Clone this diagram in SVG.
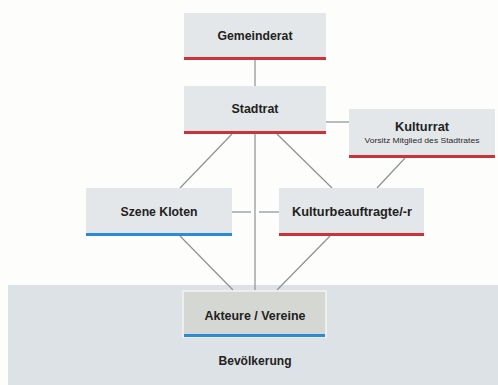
<svg xmlns="http://www.w3.org/2000/svg" width="498" height="385" viewBox="0 0 498 385">
<style>
.box{fill:#e4e7e9}
.red{fill:#c8343a}
.blue{fill:#2b8bd6}
.t{font-family:"Liberation Sans Narrow","Liberation Sans",sans-serif;font-weight:bold;font-size:13.5px;fill:#222;text-anchor:middle}
.s{font-family:"Liberation Sans Narrow","Liberation Sans",sans-serif;font-size:8px;fill:#2a2a2a;text-anchor:middle}
.c{stroke:#8c9194;stroke-width:1.2;fill:none}
</style>
<rect width="498" height="385" fill="#fdfdfb"/>
<rect x="8" y="285" width="490" height="100" fill="#dde2e6"/>
<g id="connectors">
<line class="c" x1="255" y1="60" x2="255" y2="86"/>
<line class="c" x1="326" y1="122" x2="349" y2="122"/>
<line class="c" x1="232" y1="134" x2="180" y2="188"/>
<line class="c" x1="277" y1="134" x2="332" y2="188"/>
<line class="c" x1="405" y1="158" x2="377" y2="188"/>
<line class="c" x1="255" y1="134" x2="255" y2="290"/>
<line class="c" x1="232" y1="212" x2="251" y2="212"/>
<line class="c" x1="259" y1="212" x2="279" y2="212"/>
<line class="c" x1="180" y1="236" x2="233" y2="290"/>
<line class="c" x1="330" y1="236" x2="277" y2="290"/>
</g>
<g id="gemeinderat">
<rect class="box" x="184" y="13" width="142" height="45"/>
<rect class="red" x="184" y="57" width="142" height="3"/>
<text class="t" x="255" y="40" textLength="75" lengthAdjust="spacingAndGlyphs">Gemeinderat</text>
</g>
<g id="stadtrat">
<rect class="box" x="184" y="86" width="142" height="46"/>
<rect class="red" x="184" y="131" width="142" height="3"/>
<text class="t" x="255" y="113" textLength="47" lengthAdjust="spacingAndGlyphs">Stadtrat</text>
</g>
<g id="kulturrat">
<rect class="box" x="349" y="109" width="146" height="47"/>
<rect class="red" x="349" y="155" width="146" height="3"/>
<text class="t" x="422" y="131" textLength="54" lengthAdjust="spacingAndGlyphs">Kulturrat</text>
<text class="s" x="422" y="143" textLength="115" lengthAdjust="spacingAndGlyphs">Vorsitz Mitglied des Stadtrates</text>
</g>
<g id="szene">
<rect class="box" x="86" y="188" width="146" height="46"/>
<rect class="blue" x="86" y="233" width="146" height="3"/>
<text class="t" x="159" y="216" textLength="77" lengthAdjust="spacingAndGlyphs">Szene Kloten</text>
</g>
<g id="kulturbeauftragte">
<rect class="box" x="279" y="188" width="145" height="46"/>
<rect class="red" x="279" y="233" width="145" height="3"/>
<text class="t" x="352" y="216" textLength="120" lengthAdjust="spacingAndGlyphs">Kulturbeauftragte/-r</text>
</g>
<g id="akteure">
<rect x="183" y="291" width="143" height="46" fill="#d5d7d3" stroke="#f4f5f4" stroke-width="1.5"/>
<rect class="blue" x="184" y="334" width="141" height="3"/>
<text class="t" x="255" y="320" textLength="101" lengthAdjust="spacingAndGlyphs">Akteure / Vereine</text>
</g>
<g id="bevoelkerung">
<text class="t" x="255" y="365" textLength="73" lengthAdjust="spacingAndGlyphs">Bevölkerung</text>
</g>
</svg>
